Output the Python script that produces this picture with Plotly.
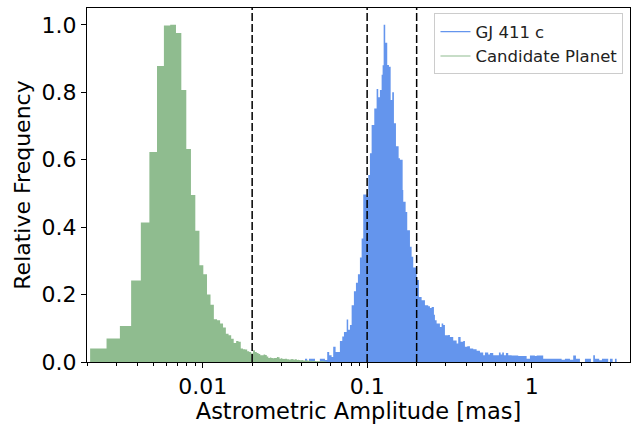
import plotly.graph_objects as go

# ---- data ----
# Candidate Planet histogram (linear bins, plotted on a log axis)
green_bin_start = 0.00207
green_bin_width = 0.000535
green_heights = [
    0.040, 0.070, 0.107, 0.242, 0.414, 0.623, 0.878, 0.998, 1.000, 0.976,
    0.807, 0.632, 0.495, 0.389, 0.287, 0.260, 0.200, 0.170, 0.127, 0.124,
    0.114, 0.102, 0.084, 0.079, 0.069, 0.056, 0.062, 0.060, 0.040, 0.038,
    0.037, 0.032, 0.030, 0.025, 0.035, 0.030, 0.027, 0.024, 0.020, 0.020,
    0.022, 0.021, 0.016,
    0.012, 0.013, 0.012, 0.011, 0.012, 0.012,
    0.015, 0.014,
    0.010, 0.011, 0.010, 0.009, 0.010, 0.010,
    0.008, 0.008, 0.007, 0.008, 0.009, 0.008, 0.007, 0.008, 0.008, 0.006, 0.007, 0.006,
    0.005, 0.005, 0.006, 0.005, 0.004, 0.005, 0.005, 0.004, 0.005, 0.004, 0.004,
    0.004, 0.003, 0.004, 0.003, 0.003, 0.004, 0.003, 0.003, 0.002, 0.003, 0.003, 0.002,
    0.003, 0.002, 0.002, 0.003, 0.002, 0.002, 0.002, 0.001, 0.002, 0.001, 0.001,
]

# GJ 411 c histogram (bin edges in mas, heights)
blue_edges = [
    0.0419, 0.0432, 0.0443, 0.0482, 0.0516, 0.0554, 0.0572, 0.0588, 0.0608, 0.0622,
    0.0643, 0.0683, 0.0706, 0.0723, 0.0751, 0.0767, 0.0786, 0.0805, 0.0831, 0.0855,
    0.0879, 0.0904, 0.0926, 0.0947, 0.0993, 0.1016, 0.1040, 0.1065, 0.1105, 0.1142,
    0.1168, 0.1196, 0.1225, 0.1242, 0.1260, 0.1288, 0.1325, 0.1357, 0.1390, 0.1421,
    0.1455, 0.1497, 0.1554, 0.1583, 0.1644, 0.1658, 0.1714, 0.1753, 0.1821, 0.1864,
    0.1906, 0.1999, 0.2065, 0.2144, 0.2246, 0.2352, 0.2409, 0.2467, 0.2547, 0.2583,
    0.2645, 0.2770, 0.2837, 0.2901, 0.2971, 0.3112, 0.3186, 0.3337, 0.3500, 0.3579,
    0.3701, 0.3839, 0.3931, 0.4060, 0.4216, 0.4416, 0.4631, 0.4850, 0.5079, 0.5201,
    0.5447, 0.5578, 0.5842, 0.6326, 0.6479, 0.6625, 0.6784, 0.6978, 0.7206, 0.7558,
    0.8288, 0.9324, 0.9766, 1.047, 1.073, 1.176, 1.522, 1.593, 1.710, 1.790,
    1.859, 1.966, 2.109, 2.294, 2.369, 2.426, 2.576, 2.675, 2.922, 2.992,
    3.108, 3.209, 3.287,
]
blue_heights = [
    0.010, 0, 0.010, 0, 0.010, 0.006, 0.030, 0.020, 0.015, 0.045,
    0.030, 0.062, 0.076, 0.089, 0.126, 0.096, 0.110, 0.168, 0.210, 0.235,
    0.260, 0.310, 0.366, 0.497, 0.490, 0.555, 0.619, 0.703, 0.752, 0.810,
    0.785, 0.807, 0.852, 0.880, 1.000, 0.947, 0.881, 0.876, 0.777, 0.800,
    0.708, 0.640, 0.604, 0.600, 0.510, 0.475, 0.445, 0.391, 0.342, 0.312,
    0.280, 0.243, 0.193, 0.183, 0.168, 0.165, 0.160, 0.163, 0.140, 0.124,
    0.114, 0.104, 0.114, 0.110, 0.079, 0.080, 0.074, 0.064, 0.055, 0.074,
    0.060, 0.062, 0.045, 0.047, 0.040, 0.038, 0.033, 0.028, 0.020, 0.028,
    0.022, 0.027, 0.020, 0.028, 0.022, 0.028, 0.020, 0.027, 0.020, 0.019,
    0.018, 0.010, 0.019, 0.018, 0.019, 0.010, 0.007, 0.010, 0.007, 0.019,
    0.010, 0, 0.010, 0, 0.020, 0.010, 0.005, 0.010, 0, 0.010,
    0, 0.010,
]

reference_lines = [0.02, 0.1, 0.2]
series_names = ["GJ 411 c", "Candidate Planet"]
major_ticks = [0.01, 0.1, 1]
major_tick_text = ["0.01", "0.1", "1"]
minor_ticks = [0.002, 0.003, 0.004, 0.005, 0.006, 0.007, 0.008, 0.009,
               0.02, 0.03, 0.04, 0.05, 0.06, 0.07, 0.08, 0.09,
               0.2, 0.3, 0.4, 0.5, 0.6, 0.7, 0.8, 0.9, 2, 3]

BLUE = "#6495ED"
GREEN = "#8FBC8F"
FONT = "DejaVu Sans"

green_edges = [green_bin_start + i * green_bin_width for i in range(len(green_heights) + 1)]


def step_xy(edges, heights):
    x = [edges[0]] + list(edges)
    y = [0] + list(heights) + [0]
    return x, y


fig = go.Figure()

bx, by = step_xy(blue_edges, blue_heights)
fig.add_trace(go.Scatter(x=bx, y=by, mode="lines", line=dict(shape="hv", width=0, color=BLUE),
                         fill="tozeroy", fillcolor=BLUE, showlegend=False, hoverinfo="skip"))
gx, gy = step_xy(green_edges, green_heights)
fig.add_trace(go.Scatter(x=gx, y=gy, mode="lines", line=dict(shape="hv", width=0, color=GREEN),
                         fill="tozeroy", fillcolor=GREEN, showlegend=False, hoverinfo="skip"))

for v in reference_lines:
    fig.add_trace(go.Scatter(x=[v, v], y=[0, 1.05], mode="lines",
                             line=dict(color="black", width=1.5, dash="8px,3px"),
                             showlegend=False, hoverinfo="skip"))

# legend entries (line handles)
for name, col in zip(series_names, [BLUE, GREEN]):
    fig.add_trace(go.Scatter(x=[None], y=[None], mode="lines", name=name,
                             line=dict(color=col, width=1.2)))

fig.update_layout(
    width=631, height=424,
    margin=dict(l=87, r=1, t=8, b=62),
    paper_bgcolor="white", plot_bgcolor="white",
    font=dict(family=FONT, size=22, color="black"),
    showlegend=True,
    legend=dict(x=0.988, y=0.985, xanchor="right", yanchor="top",
                bgcolor="rgba(255,255,255,0.8)", bordercolor="#cccccc", borderwidth=1,
                font=dict(family=FONT, size=16.5, color="#222222"),
                tracegroupgap=0, itemwidth=30),
    xaxis=dict(
        type="log", range=[-2.703, 0.598],
        tickmode="array", tickvals=major_ticks, ticktext=major_tick_text,
        ticks="outside", ticklen=5, tickwidth=1.1, tickcolor="black",
        minor=dict(tickmode="array", tickvals=minor_ticks, ticks="outside",
                   ticklen=3, tickwidth=0.8, tickcolor="black", showgrid=False),
        showline=True, linecolor="black", linewidth=1.1, mirror=True,
        showgrid=False, zeroline=False,
        title=dict(text="Astrometric Amplitude [mas]", standoff=4,
                   font=dict(family=FONT, size=22.5)),
        tickfont=dict(family=FONT, size=22),
    ),
    yaxis=dict(
        range=[0, 1.05], tickmode="array", tickvals=[0, 0.2, 0.4, 0.6, 0.8, 1.0],
        tickformat=".1f",
        ticks="outside", ticklen=5, tickwidth=1.1, tickcolor="black",
        showline=True, linecolor="black", linewidth=1.1, mirror=True,
        showgrid=False, zeroline=False,
        title=dict(text="Relative Frequency", standoff=4,
                   font=dict(family=FONT, size=22)),
        tickfont=dict(family=FONT, size=22),
    ),
)

fig.write_html("out.html")
